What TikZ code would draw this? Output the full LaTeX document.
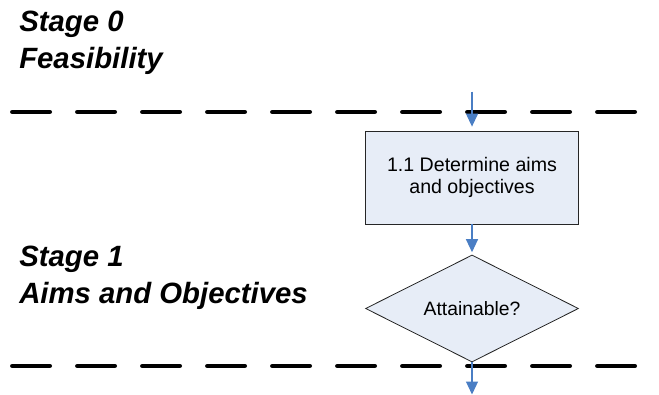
\documentclass[tikz,border=0pt]{standalone}
\usepackage{fontspec}
\setmainfont{Liberation Sans}
\usetikzlibrary{shapes.geometric,arrows.meta}
\definecolor{flowblue}{RGB}{74,126,196}
\definecolor{boxfill}{RGB}{231,237,247}
\tikzset{
  stagelabel/.style={anchor=base west, inner sep=0pt, align=left,
    font=\fontsize{22}{27.45}\selectfont\bfseries\itshape},
  boundary/.style={line width=3.375pt, line cap=round,
    dash pattern=on 28.1pt off 20.65pt},
  processbox/.style={draw=black!85, line width=0.6pt, fill=boxfill,
    minimum width=159.75pt, minimum height=69.75pt, inner sep=0pt, align=center,
    font=\fontsize{14.7}{16.75}\selectfont},
  decisionbox/.style={diamond, draw=black!85, line width=0.6pt, fill=boxfill,
    minimum width=159.75pt, minimum height=80.25pt, inner sep=0pt, shape aspect=2,
    font=\fontsize{14.5}{16.75}\selectfont},
  flow/.style={draw=flowblue, line width=0.9pt,
    -{Triangle[width=9pt,length=9.75pt]}},
}
\begin{document}
\begin{tikzpicture}[x=0.75pt,y=-0.75pt]
\useasboundingbox (0,0) rectangle (659,395);
% stage boundaries
\coordinate (b0l) at (12.3,112);
\coordinate (b0r) at (636,112);
\coordinate (b1l) at (12.3,366);
\coordinate (b1r) at (636,366);
\draw[boundary] (b0l) -- (b0r);
\draw[boundary] (b1l) -- (b1r);
% stage labels (anchored at baseline of last line)
\node[stagelabel] (s0) at (19,68.3) {Stage 0\\Feasibility};
\node[stagelabel] (s1) at (19,303.3) {Stage 1\\Aims and Objectives};
% flow
\node[processbox] (aims) at (472,177.5) {1.1 Determine aims\\and objectives};
\node[decisionbox] (att) at (472,308.5) {Attainable?};
\coordinate (in) at (472,91.7);
\coordinate (out) at (472,394.5);
\draw[flow, shorten >=3pt] (in) -- (aims.north);
\draw[flow, shorten >=1.8pt] (aims.south) -- (att.north);
\draw[flow] (att.south) -- (out);
\end{tikzpicture}
\end{document}
